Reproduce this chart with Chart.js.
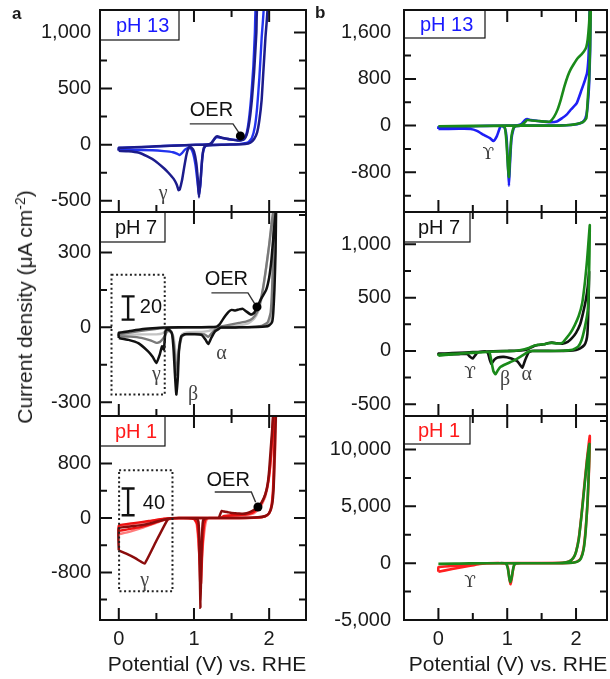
<!DOCTYPE html>
<html><head><meta charset="utf-8">
<script src="https://cdn.jsdelivr.net/npm/chart.js@4.4.1/dist/chart.umd.min.js"></script>
<style>
html,body{margin:0;padding:0;background:#fff;}
body{width:610px;height:679px;position:relative;overflow:hidden;font-family:"Liberation Sans",Arial,sans-serif;color:#1a1a1a;}
canvas{position:absolute;}
.lbl{position:absolute;white-space:nowrap;font-size:21px;line-height:24px;}
.pl{position:absolute;font-weight:bold;font-size:17px;line-height:20px;}
sup{font-size:14px;line-height:0;vertical-align:7px;}
</style></head><body>
<canvas id="a1" width="290" height="212" style="left:20px;top:5px"></canvas>
<canvas id="a2" width="290" height="214" style="left:20px;top:207px"></canvas>
<canvas id="a3" width="290" height="249" style="left:20px;top:411px"></canvas>
<canvas id="b1" width="290" height="212" style="left:320px;top:5px"></canvas>
<canvas id="b2" width="290" height="214" style="left:320px;top:207px"></canvas>
<canvas id="b3" width="290" height="249" style="left:320px;top:411px"></canvas>
<div class="pl" style="left:12px;top:4px">a</div>
<div class="pl" style="left:315px;top:3px">b</div>
<div class="lbl" style="left:207px;top:652px;transform:translateX(-50%)">Potential (V) vs. RHE</div>
<div class="lbl" style="left:508px;top:652px;transform:translateX(-50%)">Potential (V) vs. RHE</div>
<div class="lbl" style="left:24.5px;top:307px;transform:translate(-50%,-50%) rotate(-90deg)">Current density (μA cm<sup>-2</sup>)</div>
<script>
// ---------------- data (potential V, current density µA cm^-2) ----------------
const xMajor = [0, 1, 2];
const xMinor = [0.5, 1.5];

// panel a, pH 13
const a1Navy = [[0,-55],[0,-28],[0.2,-24],[0.4,-18],[0.6,-12],[0.8,-7],[0.95,-3],[1.1,0],[1.2,3],[1.24,20],[1.28,60],[1.31,74],[1.35,66],[1.42,55],[1.5,45],[1.58,38],[1.64,40],[1.68,60],[1.71,110],[1.74,220],[1.77,400],[1.8,650],[1.83,1000],[1.85,1300],
 [1.98,1300],[1.95,950],[1.92,620],[1.9,400],[1.87,220],[1.84,110],[1.8,50],[1.75,18],[1.68,6],[1.55,2],[1.4,0],[1.25,-2],[1.16,-8],[1.13,-30],[1.11,-120],[1.09,-300],[1.067,-470],[1.05,-300],[1.03,-160],[1.0,-60],[0.97,-30],[0.94,-25],[0.92,-40],[0.9,-90],[0.87,-200],[0.84,-320],[0.81,-400],[0.795,-405],[0.77,-355],[0.73,-305],[0.66,-250],[0.6,-210],[0.48,-143],[0.38,-105],[0.26,-70],[0.13,-58],[0,-55]];
const a1Blue = [[0,-50],[0,-30],[0.3,-22],[0.6,-12],[0.9,-4],[1.1,0],[1.22,5],[1.26,40],[1.3,68],[1.36,60],[1.45,50],[1.55,42],[1.62,38],[1.67,55],[1.7,100],[1.73,220],[1.76,420],[1.79,700],[1.81,1000],[1.83,1300],
 [1.93,1300],[1.9,950],[1.87,600],[1.84,330],[1.81,160],[1.77,60],[1.72,20],[1.6,5],[1.4,0],[1.2,-3],[1.15,-15],[1.12,-70],[1.1,-200],[1.085,-360],[1.065,-440],[1.045,-320],[1.02,-180],[0.99,-80],[0.96,-35],[0.92,-28],[0.88,-45],[0.84,-75],[0.81,-92],[0.78,-82],[0.72,-68],[0.6,-58],[0.45,-50],[0.3,-48],[0.15,-50],[0,-50]];
const a1Major = [-500, 0, 500, 1000];
const a1Minor = [-250, 250, 750];

// panel a, pH 7
const a2Black = [[0,-43],[0,-22],[0.15,-15],[0.3,-8],[0.45,-4],[0.6,-1],[0.8,0],[1.0,0],[1.2,1],[1.3,3],[1.34,12],[1.38,30],[1.42,47],[1.46,62],[1.5,70],[1.55,68],[1.6,72],[1.65,74],[1.7,63],[1.76,51],[1.8,58],[1.84,82],[1.9,118],[1.96,150],[2.0,200],[2.03,270],[2.06,378],[2.09,470],[2.1,520],
 [2.095,520],[2.085,300],[2.07,150],[2.055,60],[2.04,22],[2.0,8],[1.95,3],[1.85,1],[1.6,0],[1.36,-1],[1.32,-8],[1.28,-16],[1.23,-42],[1.19,-67],[1.15,-48],[1.1,-30],[1.0,-28],[0.88,-28],[0.83,-36],[0.8,-96],[0.785,-203],[0.765,-269],[0.745,-180],[0.73,-96],[0.71,-29],[0.68,-12],[0.64,-9],[0.62,-16],[0.6,-89],[0.575,-76],[0.545,-109],[0.5,-143],[0.45,-118],[0.39,-96],[0.26,-63],[0.13,-50],[0,-43]];
const a2DarkGray = [[0,-35],[0,-28],[0.3,-14],[0.6,-3],[0.9,0],[1.3,0],[1.4,6],[1.5,12],[1.6,18],[1.7,24],[1.78,36],[1.84,62],[1.88,100],[1.92,160],[1.96,240],[2.0,330],[2.03,410],[2.06,480],[2.08,520],
 [2.07,520],[2.055,320],[2.04,160],[2.02,60],[1.98,20],[1.9,6],[1.7,1],[1.4,0],[1.3,-4],[1.24,-22],[1.19,-38],[1.14,-28],[1.05,-26],[0.9,-26],[0.84,-36],[0.8,-90],[0.775,-190],[0.755,-140],[0.73,-60],[0.7,-20],[0.65,-14],[0.6,-40],[0.55,-58],[0.5,-62],[0.42,-52],[0.3,-42],[0.15,-37],[0,-35]];
const a2LightGray = [[0,-30],[0,-20],[0.3,-10],[0.6,-2],[0.9,0],[1.4,2],[1.6,8],[1.72,16],[1.8,34],[1.86,68],[1.9,118],[1.95,215],[2.0,325],[2.04,425],[2.08,520],
 [2.075,520],[2.06,300],[2.05,140],[2.03,50],[2.0,15],[1.9,4],[1.6,0],[1.3,-2],[1.2,-14],[1.1,-18],[0.9,-20],[0.84,-28],[0.8,-75],[0.775,-150],[0.755,-105],[0.73,-40],[0.69,-12],[0.63,-12],[0.58,-24],[0.5,-28],[0.3,-28],[0,-30]];
const a2Major = [-300, 0, 300];
const a2Minor = [-150, 150, 450];

// panel a, pH 1
const a3DarkRed = [[0,-476],[0,-150],[0.15,-125],[0.3,-105],[0.45,-70],[0.6,-25],[0.7,-5],[0.8,0],[1.2,0],[1.33,3],[1.35,60],[1.37,105],[1.4,95],[1.45,85],[1.5,75],[1.55,70],[1.6,65],[1.65,62],[1.7,70],[1.75,90],[1.8,120],[1.85,165],[1.9,230],[1.95,350],[1.98,500],[2.0,700],[2.02,1000],[2.04,1300],[2.06,1600],
 [2.09,1600],[2.08,1200],[2.07,800],[2.06,450],[2.04,200],[2.0,70],[1.95,30],[1.85,10],[1.6,0],[1.2,0],[1.15,-5],[1.12,-40],[1.105,-300],[1.095,-800],[1.086,-1320],[1.078,-800],[1.07,-300],[1.06,-60],[1.04,-10],[0.8,0],[0.66,-15],[0.63,-60],[0.5,-335],[0.345,-670],[0.3,-645],[0.2,-580],[0.1,-525],[0,-476]];
const a3Red = [[0,-190],[0,-110],[0.2,-75],[0.4,-45],[0.6,-12],[0.8,0],[1.3,0],[1.36,5],[1.4,30],[1.5,40],[1.6,45],[1.7,55],[1.78,80],[1.84,130],[1.9,220],[1.95,350],[1.99,550],[2.02,850],[2.04,1200],[2.06,1600],
 [2.08,1600],[2.07,1100],[2.06,700],[2.05,400],[2.03,180],[2.0,70],[1.95,25],[1.85,8],[1.6,0],[1.18,0],[1.15,-30],[1.13,-150],[1.11,-500],[1.095,-950],[1.085,-1000],[1.075,-700],[1.06,-300],[1.04,-80],[1.0,-15],[0.8,0],[0.62,-15],[0.5,-60],[0.4,-100],[0.3,-130],[0.2,-150],[0.1,-170],[0,-190]];
const a3LightRed = [[0,-240],[0,-130],[0.3,-70],[0.6,-15],[0.8,0],[1.4,0],[1.5,30],[1.7,45],[1.8,70],[1.88,150],[1.95,320],[2.0,600],[2.04,1100],[2.07,1600],
 [2.09,1600],[2.08,1000],[2.06,500],[2.03,150],[1.98,40],[1.85,5],[1.6,0],[1.2,0],[1.17,-20],[1.15,-100],[1.12,-380],[1.1,-650],[1.09,-750],[1.075,-600],[1.055,-300],[1.035,-90],[1.0,-10],[0.8,0],[0.6,-30],[0.45,-90],[0.3,-150],[0.15,-200],[0,-240]];
const a3Major = [-800, 0, 800];
const a3Minor = [-1200, -400, 400, 1200];

// panel b, pH 13
const b1Blue = [[0,-57],[0,-25],[0.2,-20],[0.4,-15],[0.6,-8],[0.8,-3],[1.0,0],[1.15,4],[1.21,30],[1.26,95],[1.29,110],[1.34,95],[1.44,80],[1.53,68],[1.63,58],[1.72,70],[1.8,130],[1.86,183],[1.93,280],[2.01,384],[2.08,611],[2.13,780],[2.16,900],[2.18,1150],[2.19,1500],[2.2,2100],
 [2.21,2100],[2.205,1300],[2.19,700],[2.17,350],[2.15,180],[2.12,90],[2.06,41],[1.95,15],[1.8,5],[1.6,0],[1.2,0],[1.12,-10],[1.09,-60],[1.06,-250],[1.04,-650],[1.025,-1030],[1.01,-650],[0.99,-200],[0.965,-40],[0.93,-10],[0.9,-17],[0.88,-80],[0.85,-180],[0.8,-265],[0.75,-215],[0.66,-160],[0.56,-90],[0.47,-57],[0.3,-55],[0,-57]];
const b1Green = [[0,-10],[0.5,-5],[0.9,0],[1.1,0],[1.2,10],[1.25,50],[1.29,95],[1.35,88],[1.45,78],[1.55,68],[1.62,68],[1.68,150],[1.73,269],[1.78,450],[1.83,668],[1.88,850],[1.92,960],[1.97,1060],[2.02,1150],[2.08,1220],[2.12,1280],[2.15,1350],[2.17,1480],[2.19,1750],[2.205,2100],
 [2.215,2100],[2.205,1400],[2.19,800],[2.17,450],[2.15,127],[2.1,60],[2.01,29],[1.9,10],[1.75,0],[1.2,0],[1.12,-10],[1.09,-40],[1.06,-200],[1.04,-550],[1.025,-880],[1.01,-700],[0.99,-300],[0.97,-60],[0.95,-10],[0.9,-5],[0.5,-10],[0,-10]];
const b1Major = [-800, 0, 800, 1600];
const b1Minor = [-1200, -400, 400, 1200];

// panel b, pH 7
const b2Black = [[0,-35],[0,-25],[0.2,-20],[0.4,-14],[0.6,-8],[0.8,-3],[1.0,0],[1.2,4],[1.3,15],[1.39,47],[1.45,55],[1.53,62],[1.6,75],[1.65,78],[1.72,72],[1.8,68],[1.88,85],[1.94,120],[2.0,170],[2.06,250],[2.1,350],[2.14,470],[2.17,600],[2.19,743],
 [2.185,560],[2.175,300],[2.165,160],[2.15,100],[2.12,55],[2.06,25],[2.0,10],[1.9,3],[1.7,0],[1.36,0],[1.31,-15],[1.26,-87],[1.22,-156],[1.18,-125],[1.15,-100],[1.1,-82],[1.05,-68],[0.95,-56],[0.86,-62],[0.81,-84],[0.77,-122],[0.745,-80],[0.72,-20],[0.68,-6],[0.6,-8],[0.57,-15],[0.54,-37],[0.5,-70],[0.46,-55],[0.42,-28],[0.3,-30],[0.15,-32],[0,-35]];
const b2Green = [[0,-45],[0,-35],[0.3,-25],[0.6,-12],[0.9,-3],[1.1,0],[1.2,8],[1.3,25],[1.39,50],[1.45,58],[1.53,63],[1.6,73],[1.65,76],[1.72,70],[1.8,75],[1.86,120],[1.92,170],[1.98,240],[2.04,330],[2.09,450],[2.13,650],[2.16,850],[2.19,1100],[2.2,1180],
 [2.195,900],[2.185,600],[2.17,380],[2.13,228],[2.08,100],[2.03,40],[1.95,12],[1.8,2],[1.5,0],[1.35,0],[1.3,-10],[1.2,-50],[1.1,-88],[1.0,-118],[0.9,-150],[0.86,-185],[0.83,-219],[0.8,-190],[0.78,-130],[0.76,-60],[0.74,-10],[0.7,-10],[0.6,-15],[0.4,-22],[0.2,-32],[0,-45]];
const b2Major = [-500, 0, 500, 1000];
const b2Minor = [-250, 250, 750, 1250];

// panel b, pH 1
const b3Red = [[0,-750],[0,-350],[0.2,-250],[0.4,-130],[0.6,-30],[0.8,0],[1.5,0],[1.8,30],[1.9,150],[1.96,450],[2.0,1000],[2.04,2200],[2.08,4300],[2.12,6800],[2.16,9200],[2.2,11200],
 [2.19,8500],[2.17,5500],[2.14,3000],[2.11,1300],[2.07,450],[2.02,150],[1.95,40],[1.8,0],[1.2,0],[1.12,-50],[1.09,-400],[1.07,-1200],[1.05,-1850],[1.03,-1300],[1.01,-400],[0.98,-50],[0.9,0],[0.7,-20],[0.6,-60],[0.4,-300],[0.2,-520],[0,-750]];
const b3Green = [[0,-60],[0.3,-30],[0.6,-10],[0.9,0],[1.6,0],[1.8,40],[1.9,150],[1.96,450],[2.0,1000],[2.04,2100],[2.08,4200],[2.12,6600],[2.16,9000],[2.195,10500],
 [2.185,8000],[2.165,5200],[2.14,2800],[2.11,1200],[2.07,400],[2.02,140],[1.95,40],[1.8,0],[1.2,0],[1.13,-30],[1.1,-150],[1.08,-700],[1.06,-1400],[1.045,-1650],[1.03,-1300],[1.01,-500],[0.99,-100],[0.96,-10],[0.9,0],[0.5,-20],[0,-60]];
const b3Major = [-5000, 0, 5000, 10000];
const b3Minor = [-2500, 2500, 7500, 12500];

// ---------------- rendering ----------------
const SANS = '"Liberation Sans", Arial, sans-serif';
const SERIF = '"Liberation Serif", "Times New Roman", serif';
const UPS = '"DejaVu Serif", serif';
Chart.defaults.font.family = SANS;

function decor(cfg) {
  return {
    id: 'decor',
    afterDatasetsDraw(chart) {
      const ctx = chart.ctx, ca = chart.chartArea;
      const sx = chart.scales.x, sy = chart.scales.y;
      const X = v => sx.getPixelForValue(v), Y = v => sy.getPixelForValue(v);
      ctx.save();
      for (const a of cfg.ann) {
        ctx.setLineDash([]);
        if (a.t === 'line') {
          ctx.strokeStyle = '#333'; ctx.lineWidth = 1.4; ctx.beginPath();
          a.pts.forEach((p, i) => i ? ctx.lineTo(X(p[0]), Y(p[1])) : ctx.moveTo(X(p[0]), Y(p[1])));
          ctx.stroke();
        } else if (a.t === 'dot') {
          ctx.fillStyle = '#000'; ctx.beginPath(); ctx.arc(X(a.x), Y(a.y), 4.5, 0, Math.PI * 2); ctx.fill();
        } else if (a.t === 'dotbox') {
          ctx.strokeStyle = '#222'; ctx.lineWidth = 2; ctx.setLineDash([2, 2.6]);
          ctx.strokeRect(X(a.x0), Y(a.y0), X(a.x1) - X(a.x0), Y(a.y1) - Y(a.y0));
        } else if (a.t === 'bar') {
          const px = X(a.x), p0 = Y(a.y0), p1 = Y(a.y1);
          ctx.strokeStyle = '#111'; ctx.lineWidth = 2.4; ctx.beginPath();
          ctx.moveTo(px, p0); ctx.lineTo(px, p1);
          ctx.moveTo(px - 6.5, p0); ctx.lineTo(px + 6.5, p0);
          ctx.moveTo(px - 6.5, p1); ctx.lineTo(px + 6.5, p1);
          ctx.stroke();
        } else if (a.t === 'text') {
          ctx.font = '20px ' + SANS; ctx.fillStyle = '#111';
          ctx.textAlign = a.align || 'center'; ctx.textBaseline = 'middle';
          ctx.fillText(a.s, X(a.x), Y(a.y));
        } else if (a.t === 'greek') {
          ctx.font = '20px ' + SERIF; ctx.fillStyle = '#444';
          ctx.textAlign = 'center'; ctx.textBaseline = 'middle';
          ctx.fillText(a.s, X(a.x), Y(a.y));
        } else if (a.t === 'ups') {
          ctx.font = '17px ' + UPS; ctx.fillStyle = '#333';
          ctx.textAlign = 'center'; ctx.textBaseline = 'middle';
          ctx.fillText(a.s, X(a.x), Y(a.y));
        }
      }
      // inside tick marks on all four sides
      ctx.setLineDash([]); ctx.strokeStyle = '#111'; ctx.lineWidth = 2; ctx.beginPath();
      const tx = (v, len) => { const p = X(v); if (p <= ca.left + 1 || p >= ca.right - 1) return;
        ctx.moveTo(p, ca.bottom); ctx.lineTo(p, ca.bottom - len); ctx.moveTo(p, ca.top); ctx.lineTo(p, ca.top + len); };
      const ty = (v, len) => { const p = Y(v); if (p <= ca.top + 1 || p >= ca.bottom - 1) return;
        ctx.moveTo(ca.left, p); ctx.lineTo(ca.left + len, p); ctx.moveTo(ca.right, p); ctx.lineTo(ca.right - len, p); };
      xMajor.forEach(v => tx(v, 12)); xMinor.forEach(v => tx(v, 7));
      cfg.yMajor.forEach(v => ty(v, 12)); cfg.yMinor.forEach(v => ty(v, 7));
      ctx.stroke();
      // pH label box
      ctx.fillStyle = '#fff'; ctx.fillRect(ca.left, ca.top, cfg.boxW, cfg.boxH);
      ctx.strokeStyle = '#111'; ctx.lineWidth = 1.2;
      ctx.strokeRect(ca.left, ca.top, cfg.boxW, cfg.boxH);
      ctx.font = '20px ' + SANS; ctx.fillStyle = cfg.labelColor; ctx.textAlign = 'left'; ctx.textBaseline = 'middle';
      ctx.fillText(cfg.label, ca.left + cfg.labelDx, ca.top + cfg.boxH / 2 + 1);
      // frame
      ctx.strokeStyle = '#111'; ctx.lineWidth = 2;
      ctx.strokeRect(ca.left, ca.top, ca.right - ca.left, ca.bottom - ca.top);
      ctx.restore();
    }
  };
}

function ds(data, color, w) {
  return { data: data.map(p => ({ x: p[0], y: p[1] })), showLine: true, borderColor: color,
           backgroundColor: color, borderWidth: w || 2.4, pointRadius: 0, tension: 0.15, fill: false };
}

function make(id, cfg) {
  const bottom = cfg.bottom;
  new Chart(document.getElementById(id), {
    type: 'scatter',
    data: { datasets: cfg.series },
    options: {
      responsive: false, animation: false, devicePixelRatio: 1,
      layout: { padding: { top: 5, right: cfg.padR, bottom: bottom ? 0 : 5, left: 0 } },
      plugins: { legend: { display: false }, tooltip: { enabled: false } },
      scales: {
        x: {
          type: 'linear', min: cfg.xMin, max: cfg.xMax,
          grid: { display: false, drawTicks: false }, border: { display: false },
          afterBuildTicks: s => { s.ticks = xMajor.map(v => ({ value: v })); },
          afterFit: s => { s.height = bottom ? 40 : 0; s.paddingLeft = 0; s.paddingRight = 0; s.paddingTop = 0; s.paddingBottom = 0; },
          ticks: { display: bottom, padding: 7, autoSkip: false, maxRotation: 0, color: '#1a1a1a',
                   font: { size: 20, family: SANS }, callback: v => String(v) }
        },
        y: {
          type: 'linear', min: cfg.yMin, max: cfg.yMax,
          grid: { display: false, drawTicks: false }, border: { display: false },
          afterBuildTicks: s => { s.ticks = cfg.yMajor.map(v => ({ value: v })); },
          afterFit: s => { s.width = cfg.yW; s.paddingTop = 0; s.paddingBottom = 0; s.paddingLeft = 0; s.paddingRight = 0; },
          ticks: { padding: cfg.yPad, autoSkip: false, color: '#1a1a1a',
                   font: { size: 20, family: SANS }, callback: v => Number(v).toLocaleString('en-US') }
        }
      }
    },
    plugins: [decor(cfg)]
  });
}

const colA = { xMin: -0.25, xMax: 2.49, yW: 80, padR: 4, yPad: 9 };
const colB = { xMin: -0.5, xMax: 2.45, yW: 84, padR: 3, yPad: 13 };

make('a1', Object.assign({}, colA, {
  yMin: -600, yMax: 1200, yMajor: a1Major, yMinor: a1Minor, bottom: false,
  label: 'pH 13', labelColor: '#1a1aff', boxW: 79, boxH: 30, labelDx: 16,
  series: [ds(a1Navy, '#1c1c8c', 2.5), ds(a1Blue, '#2233ee', 2.4)],
  ann: [
    { t: 'line', pts: [[0.944, 185], [1.519, 185], [1.608, 96]] },
    { t: 'dot', x: 1.617, y: 78 },
    { t: 'text', x: 1.232, y: 304, s: 'OER' },
    { t: 'greek', x: 0.589, y: -440, s: 'γ' }
  ]
}));
make('a2', Object.assign({}, colA, {
  yMin: -355, yMax: 462, yMajor: a2Major, yMinor: a2Minor, bottom: false,
  label: 'pH 7', labelColor: '#111', boxW: 65, boxH: 30, labelDx: 15,
  series: [ds(a2Black, '#111111', 2.5), ds(a2DarkGray, '#7a7a7a'), ds(a2LightGray, '#c4c4c4')],
  ann: [
    { t: 'dotbox', x0: -0.097, y0: 211, x1: 0.611, y1: -269 },
    { t: 'bar', x: 0.124, y0: 124, y1: 31 },
    { t: 'text', x: 0.279, y: 79, s: '20', align: 'left' },
    { t: 'line', pts: [[1.232, 138], [1.718, 138], [1.807, 95]] },
    { t: 'dot', x: 1.838, y: 82 },
    { t: 'text', x: 1.43, y: 191, s: 'OER' },
    { t: 'greek', x: 0.50, y: -189, s: 'γ' },
    { t: 'greek', x: 0.987, y: -269, s: 'β' },
    { t: 'greek', x: 1.365, y: -105, s: 'α' }
  ]
}));
make('a3', Object.assign({}, colA, {
  yMin: -1500, yMax: 1500, yMajor: a3Major, yMinor: a3Minor, bottom: true,
  label: 'pH 1', labelColor: '#ff1a1a', boxW: 65, boxH: 30, labelDx: 15,
  series: [ds(a3DarkRed, '#8b0c0c', 2.5), ds(a3Red, '#ee1111'), ds(a3LightRed, '#ff7b7b')],
  ann: [
    { t: 'dotbox', x0: 0.004, y0: 703, x1: 0.714, y1: -1077 },
    { t: 'bar', x: 0.124, y0: 433, y1: 40 },
    { t: 'text', x: 0.319, y: 212, s: '40', align: 'left' },
    { t: 'line', pts: [[1.276, 383], [1.763, 383], [1.82, 231]] },
    { t: 'dot', x: 1.851, y: 162 },
    { t: 'text', x: 1.455, y: 556, s: 'OER' },
    { t: 'greek', x: 0.345, y: -919, s: 'γ' }
  ]
}));
make('b1', Object.assign({}, colB, {
  yMin: -1480, yMax: 1980, yMajor: b1Major, yMinor: b1Minor, bottom: false,
  label: 'pH 13', labelColor: '#1a1aff', boxW: 81, boxH: 28, labelDx: 16,
  series: [ds(b1Green, '#1a8a1a', 2.6), ds(b1Blue, '#1f1ff5', 2.6)],
  ann: [ { t: 'ups', x: 0.726, y: -502, s: 'ϒ' } ]
}));
make('b2', Object.assign({}, colB, {
  yMin: -610, yMax: 1303, yMajor: b2Major, yMinor: b2Minor, bottom: false,
  label: 'pH 7', labelColor: '#111', boxW: 66, boxH: 30, labelDx: 14,
  series: [ds(b2Green, '#1a8a1a', 2.6), ds(b2Black, '#111111', 2.6)],
  ann: [
    { t: 'ups', x: 0.46, y: -209, s: 'ϒ' },
    { t: 'greek', x: 0.969, y: -272, s: 'β' },
    { t: 'greek', x: 1.284, y: -225, s: 'α' }
  ]
}));
make('b3', Object.assign({}, colB, {
  yMin: -5000, yMax: 12950, yMajor: b3Major, yMinor: b3Minor, bottom: true,
  label: 'pH 1', labelColor: '#ff1a1a', boxW: 66, boxH: 28, labelDx: 14,
  series: [ds(b3Green, '#1a8a1a', 2.6), ds(b3Red, '#ff2020', 2.6)],
  ann: [ { t: 'ups', x: 0.46, y: -1717, s: 'ϒ' } ]
}));
</script>
</body></html>
